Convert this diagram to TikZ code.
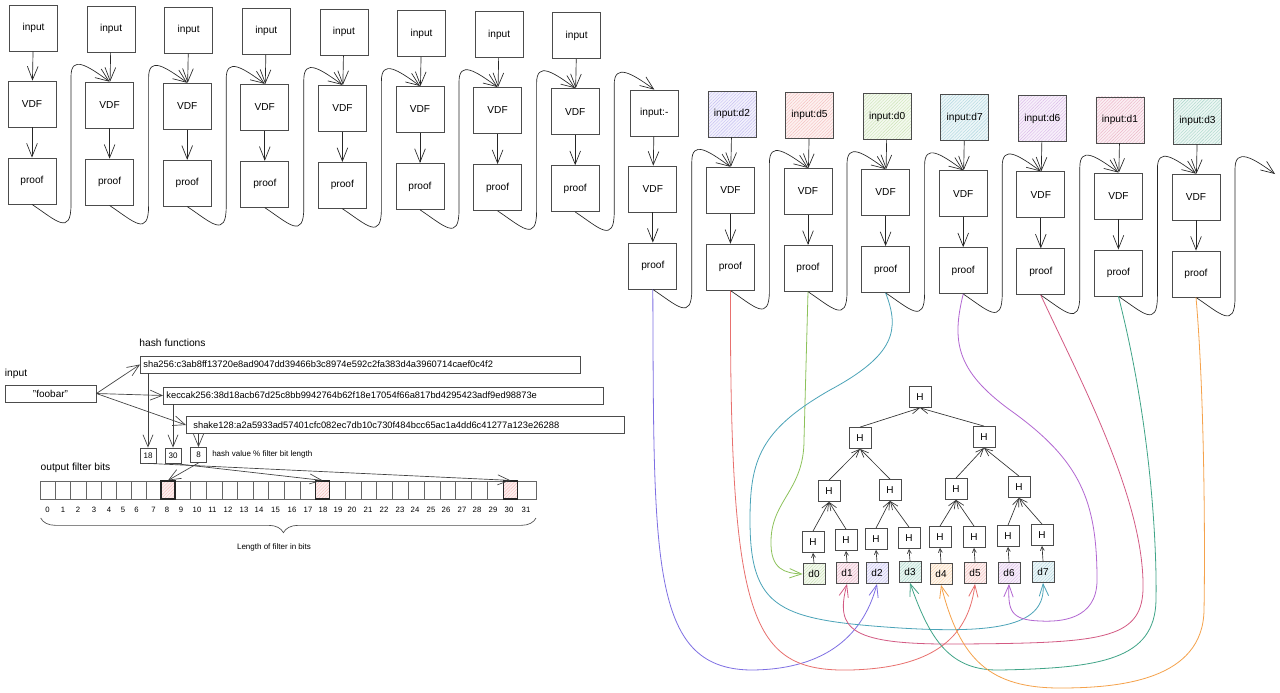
\documentclass[tikz,border=0pt]{standalone}
\usepackage{fontspec}
\setmainfont{Liberation Sans}
\usetikzlibrary{arrows.meta,patterns.meta,calc,decorations.pathreplacing}
\definecolor{colD2}{HTML}{7E6FE3}
\definecolor{colD5}{HTML}{E8706E}
\definecolor{colD0}{HTML}{8DC25B}
\definecolor{colD7}{HTML}{4AA3B8}
\definecolor{colD6}{HTML}{B266D1}
\definecolor{colD1}{HTML}{D35A83}
\definecolor{colD3}{HTML}{3FA487}
\definecolor{colD4}{HTML}{F5A24B}
\definecolor{colHi}{HTML}{EA6B66}
\newcommand{\chainloop}[2]{%
  \draw[arr] let \p1=(#1), \p2=(#2) in (\p1)
    .. controls (\x1+18pt,\y1-12pt) and (\x1+29.25pt,\y1-24pt) .. (\x1+29.25pt,\y1)
    -- (\x1+29.25pt,\y2+3.75pt)
    .. controls (\x1+29.25pt,\y2+20.25pt) and (\x2-16.5pt,\y2+12pt) .. (\p2);}
\begin{document}
\begin{tikzpicture}[x=0.75pt,y=-0.75pt,
  box/.style={draw=black!70, line width=0.6pt, fill=white, minimum width=36pt, minimum height=34.5pt, inner sep=0pt, font=\fontsize{7.6}{9}\selectfont},
  tbox/.style={draw=black!70, line width=0.6pt, fill=white, minimum width=16.5pt, minimum height=15.75pt, inner sep=0pt, font=\fontsize{7.5}{9}\selectfont},
  hatch/.style={preaction={fill=#1!10}, pattern={Lines[angle=45,distance=1.7pt,line width=0.3pt]}, pattern color=#1!45},
  hn/.style={},
  hd2/.style={hatch=colD2}, hd5/.style={hatch=colD5}, hd0/.style={hatch=colD0}, hd7/.style={hatch=colD7},
  hd6/.style={hatch=colD6}, hd1/.style={hatch=colD1}, hd3/.style={hatch=colD3},
  arr/.style={draw=black!85, line width=0.5pt, -{Straight Barb[length=10pt,width=8pt]}},
  barr/.style={draw=black!75, line width=0.5pt, -{Straight Barb[length=9pt,width=7.5pt]}},
  tarr/.style={draw=black!80, line width=0.5pt, -{Straight Barb[length=6pt,width=5pt]}},
  lfarr/.style={draw=black!80, line width=0.5pt, -{Straight Barb[length=3pt,width=3pt]}},
  cl/.style={line width=0.6pt, -{Straight Barb[length=9pt,width=7pt]}},
  lbl/.style={font=\fontsize{7.7}{9}\selectfont, inner sep=0pt},
  small/.style={font=\fontsize{6}{7}\selectfont, inner sep=0pt},
  numlbl/.style={font=\fontsize{5.8}{7}\selectfont, inner sep=0pt},
  hbox/.style={draw=black!70, line width=0.6pt, fill=white, minimum height=12.75pt, inner sep=0pt, inner xsep=2.25pt, font=\fontsize{7}{9}\selectfont},
  nbox/.style={draw=black!70, line width=0.6pt, fill=white, minimum width=12pt, minimum height=11.25pt, inner sep=0pt, font=\fontsize{6}{7}\selectfont},
  cellline/.style={draw=black!60, line width=0.5pt},
  cellhi/.style={draw=black!85, line width=0.9pt, hatch=colHi, minimum width=10.5pt, minimum height=13.5pt, inner sep=0pt}
]
\fill[white] (0,0) rectangle (1280,692);
\useasboundingbox (0,0) rectangle (1280,692);

% ---------- VDF chain ----------
\foreach \i/\lab/\hs in {1/input/hn,2/input/hn,3/input/hn,4/input/hn,5/input/hn,6/input/hn,7/input/hn,8/input/hn,9/input:-/hn,10/input:d2/hd2,11/input:d5/hd5,12/input:d0/hd0,13/input:d7/hd7,14/input:d6/hd6,15/input:d1/hd1,16/input:d3/hd3}{
  \pgfmathsetmacro\xin{33.5+77.6*(\i-1)}
  \pgfmathsetmacro\yin{ifthenelse(\i<9,28+1.08*(\i-1),113+1.15*(\i-9))}
  \node[box,\hs] (in\i) at (\xin,\yin) {\lab};
  \node[box] (v\i) at (\xin-1.5,\yin+76) {VDF};
  \node[box] (p\i) at (\xin-1.5,\yin+153) {proof};
  \draw[arr] (in\i) -- (v\i);
  \draw[arr] (v\i) -- (p\i);
}
\foreach \i in {1,2,3,4,5,6,7,9,10,11,12,13,14,15}{
  \pgfmathtruncatemacro\j{\i+1}
  \chainloop{p\i.south}{v\j.north}
}
\chainloop{p8.south}{in9.north}
\coordinate (endc) at (1275,174);
\chainloop{p16.south}{endc}

% ---------- Merkle tree ----------
\node[tbox] (root) at (920,397) {H};
\node[tbox] (h10) at (860,438) {H};
\node[tbox] (h11) at (984,437) {H};
\node[tbox] (h20) at (829,491) {H};
\node[tbox] (h21) at (890,490) {H};
\node[tbox] (h22) at (956,489) {H};
\node[tbox] (h23) at (1019,487) {H};
\foreach \k/\x/\y/\cc/\ly in {0/813/542/colD0/574,1/846/540/colD1/573,2/876/539/colD2/573,3/909/538/colD3/572,4/940/537/colD4/574,5/974/537/colD5/573,6/1008/536/colD6/573,7/1042/535/colD7/572}{
  \node[tbox] (h3\k) at (\x,\y) {H};
  \node[tbox, hatch=\cc] (d\k) at (\x+1,\ly) {d\k};
  \draw[lfarr] (d\k.north) -- (h3\k.south);
}
\foreach \ch/\pa in {h30/h20,h31/h20,h32/h21,h33/h21,h34/h22,h35/h22,h36/h23,h37/h23,h20/h10,h21/h10,h22/h11,h23/h11,h10/root,h11/root}
  \draw[tarr] (\ch.north) -- (\pa.south);

% ---------- proof -> data connectors ----------
\draw[cl, colD2] (p9.south) .. controls (654,560) and (650,668) .. (750,670) .. controls (820,670) and (862,640) .. (d2.south);
\draw[cl, colD5] (p10.south) .. controls (730,620) and (750,672) .. (850,670) .. controls (930,668) and (968,640) .. (d5.south);
\draw[cl, colD0] (p11.south) -- (804,440) .. controls (804,490) and (772,500) .. (771,540) .. controls (770,570) and (785,573) .. (d0.west);
\draw[cl, colD7] (p12.south) .. controls (900,330) and (895,355) .. (830,390) .. controls (760,430) and (750,460) .. (750,520) .. controls (750,610) and (780,620) .. (900,628) .. controls (1000,634) and (1046,625) .. (d7.south);
\draw[cl, colD6] (p13.south) .. controls (952,340) and (955,370) .. (1010,410) .. controls (1080,460) and (1097,500) .. (1097,580) .. controls (1097,620) and (1060,622) .. (1040,621) .. controls (1010,620) and (1008,610) .. (d6.south);
\draw[cl, colD1] (p14.south) .. controls (1080,380) and (1145,500) .. (1143,590) .. controls (1141,640) and (1100,643) .. (960,644) .. controls (850,645) and (835,630) .. (d1.south);
\draw[cl, colD3] (p15.south) .. controls (1150,420) and (1157,540) .. (1156,600) .. controls (1155,660) and (1100,668) .. (1000,670) .. controls (950,671) and (930,640) .. (d3.south);
\draw[cl, colD4] (p16.south) .. controls (1205,400) and (1205,560) .. (1204,610) .. controls (1203,680) and (1120,688) .. (1060,688) .. controls (990,688) and (960,660) .. (d4.south);

% ---------- Bloom filter ----------
\node[lbl] (tin) at (16,374) {input};
\node[lbl] (thf) at (172.5,343) {hash functions};
\node[lbl] (tofb) at (75.5,468) {output filter bits};
\node[hbox, minimum width=68.25pt, font=\fontsize{7.5}{9}\selectfont] (foo) at (50.5,393.5) {"foobar"};
\node[hbox, text width=325.5pt, align=left, anchor=west] (sha) at (140,364.5) {sha256:c3ab8ff13720e8ad9047dd39466b3c8974e592c2fa383d4a3960714caef0c4f2};
\node[hbox, text width=325.5pt, align=left, anchor=west] (kec) at (163,395.5) {keccak256:38d18acb67d25c8bb9942764b62f18e17054f66a817bd4295423adf9ed98873e};
\node[hbox, text width=324pt, align=left, anchor=west] (shk) at (186,425) {\hspace{3pt}shake128:a2a5933ad57401cfc082ec7db10c730f484bcc65ac1a4dd6c41277a123e26288};
\node[nbox] (b18) at (148,455.5) {18};
\node[nbox] (b30) at (173,455.5) {30};
\node[nbox] (b8) at (198.5,455) {8};
\node[small, anchor=west] (thv) at (212,454) {hash value \% filter bit length};

\draw[cellline] (40.7,481) rectangle (536,499);
\foreach \x in {55.7,70.8,85.9,100.9,116,131,146.1,161.1,175,190.6,206.3,221.9,237.5,253.2,268.8,284.4,300.1,315.7,329.3,345.1,360.9,376.8,392.6,408.4,424.2,440,455.8,471.7,487.5,503.3,517.7}
  \draw[cellline] (\x,481) -- (\x,499);
\node[cellhi] (c8) at (168,490) {};
\node[cellhi] (c18) at (322.5,490) {};
\node[cellhi] (c30) at (510.5,490) {};
\foreach \n/\x in {0/47.5,1/63,2/78,3/94,4/109,5/123,6/136.5,7/153.5,8/167,9/181,10/197,11/212.5,12/228,13/244,14/259,15/275.5,16/292,17/308,18/323,19/338,20/352,21/368,22/384,23/400,24/415,25/431,26/446,27/462,28/477,29/493,30/509,31/526}
  \node[numlbl] (n\n) at (\x,510) {\n};
\draw[draw=black!70, line width=0.5pt, decorate, decoration={brace, mirror, amplitude=11pt, aspect=0.49}] (40.7,518) -- (536,518);
\node[small] (tlen) at (274,547) {Length of filter in bits};

\draw[barr] (foo.east) -- (sha.west);
\draw[barr] (foo.east) -- (kec.west);
\draw[barr] (foo.east) -- (shk.west);
\draw[barr] (b18.north |- sha.south) -- (b18.north);
\draw[barr] (b30.north |- kec.south) -- (b30.north);
\draw[barr] (b8.north |- shk.south) -- (b8.north);
\draw[barr] (b8.south) -- (c8.north);
\draw[barr] (b30.south) -- (c18.north);
\draw[barr] (b18.south) -- (c30.north);
\end{tikzpicture}
\end{document}
